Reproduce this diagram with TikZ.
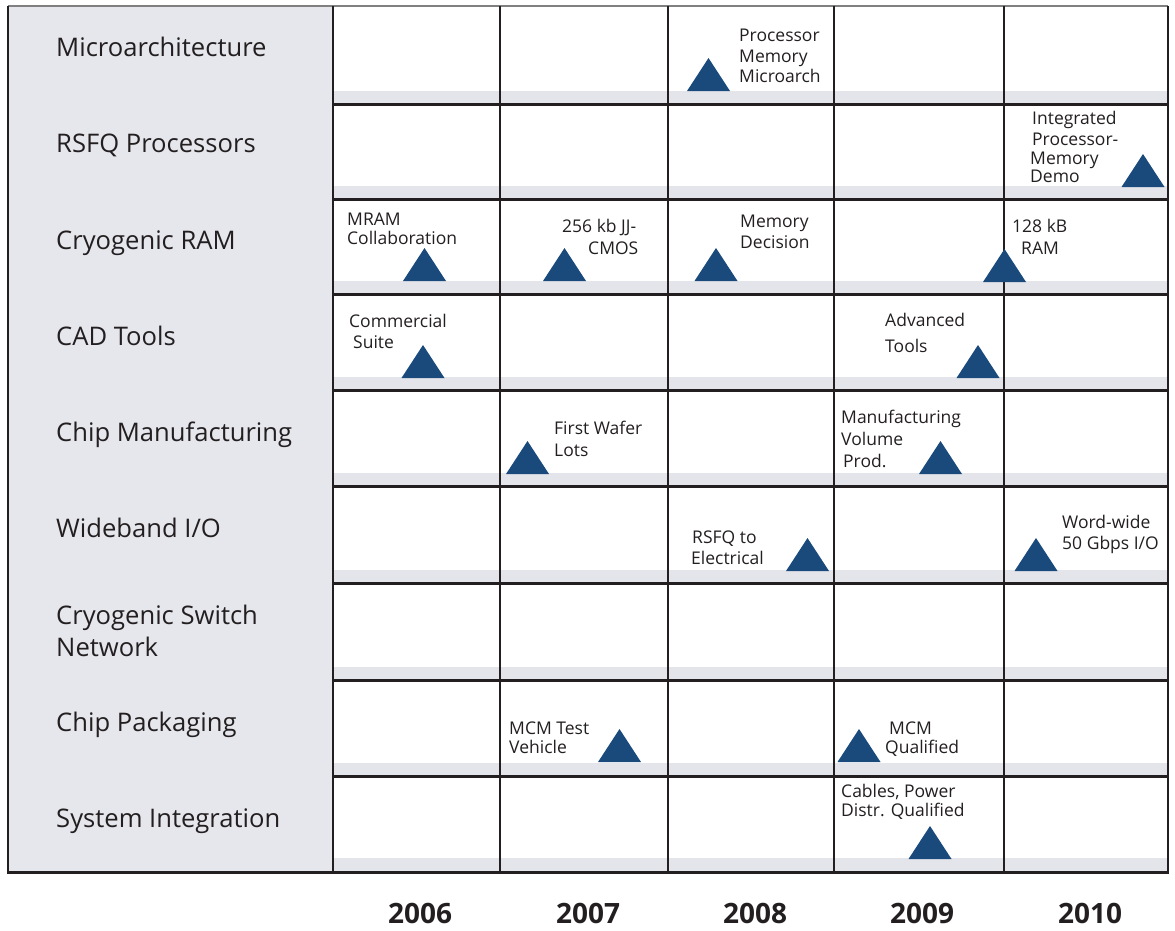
\documentclass[tikz,border=0pt]{standalone}
\usepackage{fontspec}
\setmainfont{Open Sans}
\definecolor{ink}{HTML}{231F20}
\definecolor{panel}{HTML}{E6E7EC}
\definecolor{band}{HTML}{E4E5EA}
\definecolor{msblue}{HTML}{1A4A7C}
\tikzset{
  rowlabel/.style={anchor=base west,inner sep=0pt,text=ink,font=\fontsize{25.6}{28}\selectfont},
  ms/.style={anchor=base west,inner sep=0pt,text=ink,font=\fontsize{17.5}{20}\selectfont},
  yearlabel/.style={anchor=base,inner sep=0pt,text=ink,font=\fontsize{28}{30}\selectfont\bfseries},
  gridh/.style={draw=ink,line width=3pt},
  gridv/.style={draw=ink,line width=2pt},
  msfill/.style={fill=msblue},
}
\newcommand\milestone[2]{\fill[msfill] (#1-21.5,#2) -- (#1+21.5,#2) -- (#1,#2-33) -- cycle;}
\begin{document}
\begin{tikzpicture}[x=1pt,y=-1pt]
\useasboundingbox (0,0) rectangle (1175,930);
% panels and bands
\fill[panel] (8,6) rectangle (333,871);
\foreach \yl in {104,199,294,390,486,583,680,776,871}{
  \fill[band] (333,\yl-13) rectangle (1168,\yl);
}
% grid
\draw[draw=gray,line width=1.5pt] (8,6) -- (1168,6);
\foreach \yl in {104,199,294,390,486,583,680,776}{
  \draw[gridh] (333,\yl) -- (1168,\yl);
}
\foreach \xl in {500,668,834,1004}{
  \draw[gridv] (\xl,6) -- (\xl,871);
}
\draw[draw=ink,line width=2.5pt] (333,6) -- (333,871);
\draw[draw=ink,line width=2.5pt] (8,6) -- (8,872.5) -- (1168,872.5) -- (1168,6);
% row labels
\node[rowlabel] (r1) at (56,56) {Microarchitecture};
\node[rowlabel] (r2) at (56,152) {RSFQ Processors};
\node[rowlabel] (r3) at (56,249) {Cryogenic RAM};
\node[rowlabel] (r4) at (56,345) {CAD Tools};
\node[rowlabel] (r5) at (56,441) {Chip Manufacturing};
\node[rowlabel] (r6) at (56,537) {Wideband I/O};
\node[rowlabel] (r7a) at (56,624) {Cryogenic Switch};
\node[rowlabel] (r7b) at (56,656) {Network};
\node[rowlabel] (r8) at (56,731) {Chip Packaging};
\node[rowlabel] (r9) at (56,827) {System Integration};
% years
\node[yearlabel] (y6) at (420,923) {2006};
\node[yearlabel] (y7) at (588,923) {2007};
\node[yearlabel] (y8) at (755,923) {2008};
\node[yearlabel] (y9) at (922,923) {2009};
\node[yearlabel] (y10) at (1090,923) {2010};
% milestones: triangles
\milestone{708.5}{91}
\milestone{1143}{187}
\milestone{424.5}{281}
\milestone{564.5}{281}
\milestone{716}{281}
\milestone{1004.5}{282}
\milestone{423}{378}
\milestone{978}{378}
\milestone{527.5}{474}
\milestone{940.5}{474}
\milestone{807.5}{571}
\milestone{1036}{571}
\milestone{619.5}{762}
\milestone{859}{762}
\milestone{930}{859}
% milestone texts
\node[ms] (a1) at (739,41) {Processor};
\node[ms] (a2) at (739,62) {Memory};
\node[ms] (a3) at (739,82) {Microarch};
\node[ms] (b1) at (1032,124) {Integrated};
\node[ms] (b2) at (1032,145) {Processor-};
\node[ms] (b3) at (1030,164.5) {Memory};
\node[ms] (b4) at (1030,182.5) {Demo};
\node[ms] (c1) at (347,225) {MRAM};
\node[ms] (c2) at (347,244) {Collaboration};
\node[ms] (c3) at (562,232) {256 kb JJ-};
\node[ms] (c4) at (588,254) {CMOS};
\node[ms] (c5) at (740,227) {Memory};
\node[ms] (c6) at (740,248) {Decision};
\node[ms] (c7) at (1012,232) {128 kB};
\node[ms] (c8) at (1021,254) {RAM};
\node[ms] (d1) at (349,327) {Commercial};
\node[ms] (d2) at (353,348) {Suite};
\node[ms] (d3) at (885,326) {Advanced};
\node[ms] (d4) at (885,352) {Tools};
\node[ms] (e1) at (554,434) {First Wafer};
\node[ms] (e2) at (554,456) {Lots};
\node[ms] (e3) at (841,423) {Manufacturing};
\node[ms] (e4) at (841,445) {Volume};
\node[ms] (e5) at (843,467) {Prod.};
\node[ms] (f1) at (692,543) {RSFQ to};
\node[ms] (f2) at (691,564) {Electrical};
\node[ms] (f3) at (1062,528) {Word-wide};
\node[ms] (f4) at (1062,549) {50 Gbps I/O};
\node[ms] (h1) at (509,734) {MCM Test};
\node[ms] (h2) at (509,753) {Vehicle};
\node[ms] (h3) at (889,734) {MCM};
\node[ms] (h4) at (885,753) {Qualified};
\node[ms] (i1) at (841,797) {Cables, Power};
\node[ms] (i2) at (841,816) {Distr. Qualified};
\end{tikzpicture}
\end{document}
